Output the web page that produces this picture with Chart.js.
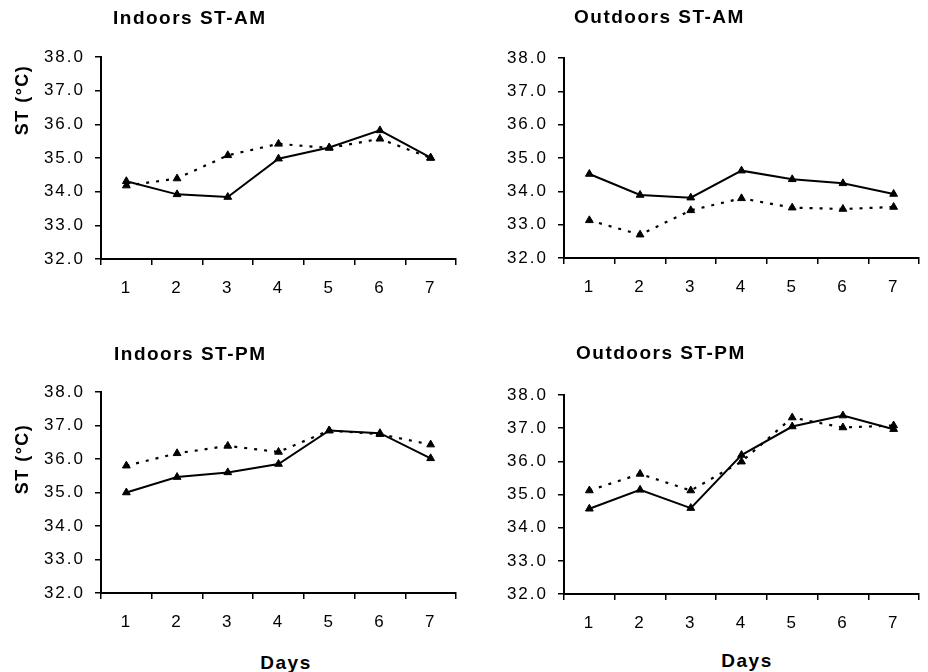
<!DOCTYPE html>
<html>
<head>
<meta charset="utf-8">
<script src="https://cdn.jsdelivr.net/npm/chart.js@4/dist/chart.umd.min.js"></script>
<style>
  html, body { margin: 0; padding: 0; background: #fff; }
  #page { position: relative; width: 928px; height: 672px; overflow: hidden; }
  .panel { position: absolute; width: 464px; }
  .lbl { position: absolute; font-family: 'Liberation Sans', Arial, sans-serif; font-weight: bold;
         color: #000; white-space: nowrap; line-height: 1; }
  .title { font-size: 19px; letter-spacing: 1.5px; transform: translate(0, -50%); }
  .ytitle { font-size: 18px; letter-spacing: 1.5px; transform: translate(-50%, -50%) rotate(-90deg); }
  .xtitle { font-size: 19px; letter-spacing: 1.5px; transform: translate(-50%, -50%); }
</style>
</head>
<body>
<div id="page">
  <div class="panel" style="left:0;top:0;height:300px"><canvas id="inAm"></canvas></div>
  <div class="panel" style="left:464px;top:0;height:300px"><canvas id="outAm"></canvas></div>
  <div class="panel" style="left:0;top:320px;height:320px"><canvas id="inPm"></canvas></div>
  <div class="panel" style="left:464px;top:320px;height:320px"><canvas id="outPm"></canvas></div>

  <div class="lbl title" style="left:113px;top:17px">Indoors ST-AM</div>
  <div class="lbl title" style="left:574px;top:16px">Outdoors ST-AM</div>
  <div class="lbl title" style="left:114px;top:353px">Indoors ST-PM</div>
  <div class="lbl title" style="left:576px;top:352px">Outdoors ST-PM</div>

  <div class="lbl ytitle" style="left:22px;top:100px">ST (°C)</div>
  <div class="lbl ytitle" style="left:22px;top:459px">ST (°C)</div>

  <div class="lbl xtitle" style="left:286px;top:662px">Days</div>
  <div class="lbl xtitle" style="left:747px;top:660px">Days</div>
</div>
<script>
const days = ['1', '2', '3', '4', '5', '6', '7'];
const yMin = 32;
const yMax = 38;

// solid line / dotted line per panel
const inAmSolid = [34.31, 33.92, 33.84, 34.98, 35.31, 35.82, 35.01];
const inAmDotted = [34.18, 34.39, 35.08, 35.42, 35.30, 35.57, 35.00];
const outAmSolid = [34.52, 33.89, 33.81, 34.62, 34.36, 34.24, 33.92];
const outAmDotted = [33.13, 32.70, 33.43, 33.79, 33.51, 33.47, 33.53];
const inPmSolid = [35.00, 35.46, 35.60, 35.85, 36.85, 36.77, 36.02];
const inPmDotted = [35.80, 36.17, 36.39, 36.21, 36.85, 36.74, 36.43];
const outPmSolid = [34.57, 35.14, 34.59, 36.19, 37.05, 37.38, 36.97];
const outPmDotted = [35.12, 35.62, 35.12, 35.99, 37.32, 37.02, 37.08];

const tickFont = { family: "'Liberation Sans', Arial, sans-serif", size: 17 };

// wider letter spacing, like the scanned figure
const spacing = {
    id: 'spacing',
    beforeLayout(chart) { chart.ctx.letterSpacing = '2px'; },
    beforeDraw(chart) { chart.ctx.letterSpacing = '2px'; }
};

function makePanel(id, solid, dotted, box) {
    const ctx = document.getElementById(id).getContext('2d');
    return new Chart(ctx, {
        type: 'line',
        data: {
            labels: days,
            datasets: [
                {
                    label: 'Solid',
                    data: solid,
                    borderColor: '#000',
                    backgroundColor: '#000',
                    borderWidth: 2,
                    pointStyle: 'triangle',
                    pointRadius: 4.5,
                    pointBorderWidth: 1,
                    tension: 0
                },
                {
                    label: 'Dotted',
                    data: dotted,
                    borderColor: '#000',
                    backgroundColor: '#000',
                    borderWidth: 2.2,
                    borderDash: [3, 7],
                    pointStyle: 'triangle',
                    pointRadius: 4.5,
                    pointBorderWidth: 1,
                    tension: 0
                }
            ]
        },
        options: {
            responsive: true,
            maintainAspectRatio: false,
            animation: false,
            layout: { padding: { top: box.top, right: box.right, left: 0, bottom: 0 } },
            scales: {
                x: {
                    offset: true,
                    grid: { offset: true, drawOnChartArea: false, tickLength: 6, color: '#000', lineWidth: 1.5 },
                    border: { color: '#000', width: 2 },
                    ticks: { color: '#000', font: tickFont, padding: 13, maxRotation: 0 },
                    afterFit: (scale) => { scale.height = box.xh; }
                },
                y: {
                    min: yMin,
                    max: yMax,
                    grid: { drawOnChartArea: false, tickLength: 6, color: '#000', lineWidth: 1.5 },
                    border: { color: '#000', width: 2 },
                    ticks: {
                        stepSize: 1,
                        color: '#000',
                        font: tickFont,
                        padding: 10,
                        callback: (v) => Number(v).toFixed(1)
                    },
                    afterFit: (scale) => { scale.width = box.yw; }
                }
            },
            plugins: {
                legend: { display: false },
                tooltip: { enabled: false }
            }
        },
        plugins: [spacing]
    });
}

makePanel('inAm', inAmSolid, inAmDotted, { top: 57, right: 8, xh: 41, yw: 101 });
makePanel('outAm', outAmSolid, outAmDotted, { top: 58, right: 9, xh: 42, yw: 100 });
makePanel('inPm', inPmSolid, inPmDotted, { top: 72, right: 8, xh: 47, yw: 101 });
makePanel('outPm', outPmSolid, outPmDotted, { top: 75, right: 9, xh: 46, yw: 100 });
</script>
</body>
</html>
